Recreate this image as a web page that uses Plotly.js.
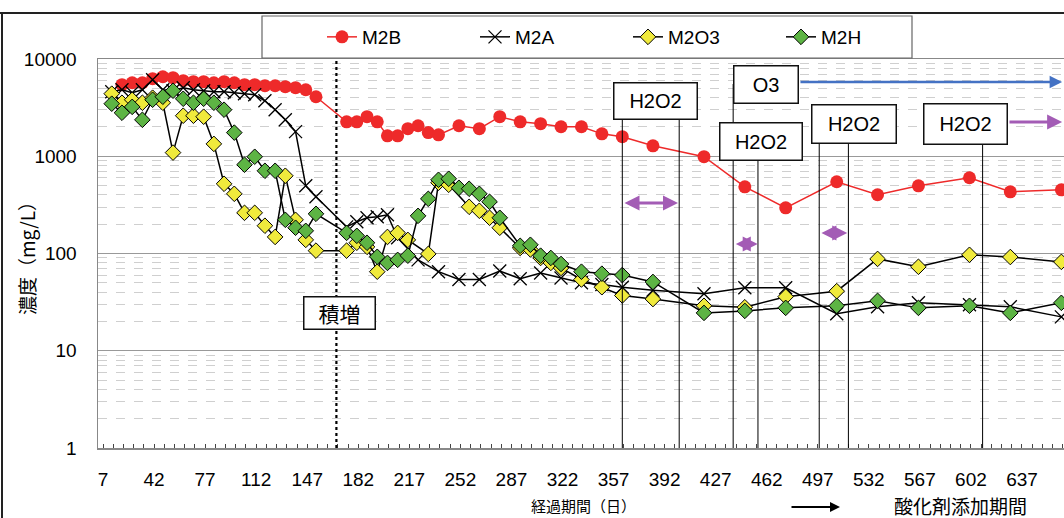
<!DOCTYPE html>
<html>
<head>
<meta charset="utf-8">
<script src="https://cdn.plot.ly/plotly-3.0.1.min.js"></script>
<style>html,body{margin:0;padding:0;background:#fff;}#chart{width:1064px;height:518px;}</style>
</head>
<body>
<div id="chart"></div>
<script>
// ---- Data ----
const daysM2B = [20,27,34,41,48,55,62,69,76,83,90,97,104,111,118,125,132,139,146,153,
  174,181,188,195,202,209,216,223,230,237,251,265,279,293,307,321,335,349,363,384,
  419,447,475,510,538,566,601,629,664];
const valM2B = [5440,5700,5700,6270,6570,6420,5980,5840,5840,5700,5840,5700,5440,5440,5310,5310,5190,5070,4830,4090,
  2260,2260,2550,2260,1620,1620,1920,2060,1750,1660,2060,1920,2550,2260,2160,2010,2010,1700,1590,1280,
  990,485,295,547,402,497,601,431,452];

const daysM2A = [13,20,27,34,41,48,55,62,69,76,83,90,97,104,111,118,125,132,139,146,153,
  174,181,188,195,202,209,223,237,251,265,279,293,307,321,335,349,363,384,
  419,447,475,510,538,566,601,629,664];
const valM2A = [4610,4830,4500,4830,6120,4830,4720,5070,4830,4720,4610,4610,4500,4400,4290,3720,3010,2370,1790,497,383,
  188,212,233,239,250,145,86,65,54,54,66,55,63,56,50,48,45,42,
  38.5,44.4,44.4,24,28.3,31.1,29.7,28.3,22.3];

const daysM2O3 = [13,20,27,34,41,48,55,62,69,76,83,90,97,104,111,118,125,132,139,146,153,
  174,181,188,195,202,209,216,230,237,244,258,265,272,279,293,300,307,314,321,335,349,363,384,
  419,447,475,510,538,566,601,629,664];
const valM2O3 = [4400,3550,3810,3550,4000,3550,1090,2610,2610,2550,1340,521,411,262,262,193,148,630,222,138,107,
  107,129,117,65,148,163,138,99,534,509,302,275,233,184,114,110,90,80,71,54,45,37,34,
  29,28,36,41,88,73,97,92,82];

const daysM2H = [13,20,27,34,41,48,55,62,69,76,83,90,97,104,111,118,125,132,139,146,153,
  174,181,188,195,202,209,216,223,230,237,244,251,258,265,272,279,293,300,307,314,321,335,349,363,384,
  419,447,475,510,538,566,601,629,664];
const valM2H = [3470,2800,3220,2370,3810,4090,4720,3900,3550,3900,3550,3010,1750,818,988,709,709,222,184,171,256,
  163,152,129,92.5,80,86,95,244,365,573,587,474,463,411,340,233,120,123,95,90,78,65,62,60,51,
  24.5,25.7,27.6,29,32.6,27.6,29,24.5,31.1];

const seriesNames = ['M2B','M2A','M2O3','M2H'];
const xTickVals = [7,42,77,112,147,182,217,252,287,322,357,392,427,462,497,532,567,602,637];
const yTickVals = [1,10,100,1000,10000];
const yTickText = ['1','10','100','1000','10000'];

// event markers (days)
const dayIncrease = 167;                 // 積増
const h2o2Lines = [363, 402, 456, 498, 518, 610];
const o3Line = 439;

// ---- Traces ----
const traces = [
  {x: daysM2B, y: valM2B, name: seriesNames[0], mode: 'lines+markers',
   line: {color: '#EE2A2A', width: 1.5},
   marker: {symbol: 'circle', size: 13, color: '#EE2A2A'}},
  {x: daysM2A, y: valM2A, name: seriesNames[1], mode: 'lines+markers',
   line: {color: '#000', width: 1.5},
   marker: {symbol: 'x-thin', size: 13, color: '#000', line: {color: '#000', width: 1.3}}},
  {x: daysM2O3, y: valM2O3, name: seriesNames[2], mode: 'lines+markers',
   line: {color: '#000', width: 1.5},
   marker: {symbol: 'diamond', size: 12, color: '#F0EA3C', line: {color: '#000', width: 1}}},
  {x: daysM2H, y: valM2H, name: seriesNames[3], mode: 'lines+markers',
   line: {color: '#000', width: 1.5},
   marker: {symbol: 'diamond', size: 12, color: '#5DB444', line: {color: '#000', width: 1}}}
];

// ---- Layout helpers ----
const PX0 = 98, PW = 966, PY0 = 448, PH = 389;
const px = v => (v - PX0) / PW;
const py = v => (PY0 - v) / PH;

const shapes = [
  // outer frame
  {type: 'line', xref: 'paper', yref: 'paper', x0: px(2), x1: px(2), y0: py(13), y1: py(520), line: {color: '#222', width: 2}},
  {type: 'line', xref: 'paper', yref: 'paper', x0: px(0), x1: px(1066), y0: py(13), y1: py(13), line: {color: '#222', width: 2}},
  // legend box
  {type: 'rect', xref: 'paper', yref: 'paper', x0: px(262), x1: px(912), y0: py(58), y1: py(16), line: {color: '#666', width: 1.2}, fillcolor: 'rgba(0,0,0,0)'},
  // 積増 dotted line
  {type: 'line', xref: 'x', yref: 'paper', x0: dayIncrease, x1: dayIncrease, y0: 0, y1: 1, line: {color: '#000', width: 2.2, dash: 'dot'}},
  // O3 line
  {type: 'line', xref: 'x', yref: 'paper', x0: o3Line, x1: o3Line, y0: 0, y1: py(84), line: {color: '#000', width: 1}}
];
const h2o2Tops = [py(100), py(100), py(141), py(124), py(124), py(124)];
h2o2Lines.forEach((d, i) => shapes.push({type: 'line', xref: 'x', yref: 'paper', x0: d, x1: d, y0: 0, y1: h2o2Tops[i], line: {color: '#000', width: 1}}));

function box(text, xDay, yPix, w, h, size, fam) {
  return {xref: 'x', yref: 'paper', x: xDay, y: py(yPix), xanchor: 'center', yanchor: 'middle',
    text: text, showarrow: false,
    width: w, height: h, bgcolor: '#fff', bordercolor: '#111', borderwidth: 1.5, borderpad: 0,
    font: {size: size, color: '#000', family: fam || 'Liberation Sans, Arial, sans-serif'}};
}
function dblArrow(d0, d1, yPix, sides, color) {
  return {xref: 'x', yref: 'paper', x: d1, y: py(yPix), axref: 'x', ax: d0, ayref: 'pixel', ay: 0,
    text: '', showarrow: true, arrowside: sides, arrowhead: 2, arrowsize: 1, arrowwidth: 3, arrowcolor: color};
}
function label(text, xPix, yPix, size, extra) {
  return Object.assign({xref: 'paper', yref: 'paper', x: px(xPix), y: py(yPix), xanchor: 'center', yanchor: 'middle',
    text: text, showarrow: false, font: {size: size, color: '#000', family: 'Noto Sans CJK JP, sans-serif'}}, extra || {});
}
const purple = '#A35CB5';
const annotations = [
  box('積増', 169, 313, 70, 31, 21, 'Noto Sans CJK JP, sans-serif'),
  box('H2O2', 385.8, 101, 82, 35, 20),
  box('O3', 461.5, 84.5, 63, 36, 20),
  box('H2O2', 458.1, 141.5, 81, 36, 20),
  box('H2O2', 521.8, 124, 83, 37, 20),
  box('H2O2', 598.3, 124, 82, 39, 20),
  dblArrow(363.5, 401.2, 203, 'end+start', purple),
  dblArrow(439.8, 455.8, 244, 'end+start', purple),
  dblArrow(498.5, 517.2, 233, 'end+start', purple),
  dblArrow(627.4, 664.5, 122, 'end', purple),
  {xref: 'x', yref: 'paper', x: 664.5, y: py(82), axref: 'x', ax: 484.1, ayref: 'pixel', ay: 0,
   text: '', showarrow: true, arrowhead: 2, arrowsize: 1, arrowwidth: 2.5, arrowcolor: '#4472C4'},
  label('濃度（mg/L）', 27, 254, 19, {textangle: -90}),
  label('経過期間（日）', 583, 506, 15),
  {xref: 'paper', yref: 'paper', x: px(840), y: py(507), ax: -50, ay: 0, text: '', showarrow: true,
   arrowhead: 2, arrowsize: 1, arrowwidth: 2, arrowcolor: '#000'},
  label('酸化剤添加期間', 960, 505, 19)
];

const layout = {
  width: 1064, height: 518,
  margin: {l: PX0, r: 0, t: 59, b: 70},
  paper_bgcolor: '#fff', plot_bgcolor: '#fff',
  showlegend: true,
  legend: {orientation: 'h', x: px(322), xanchor: 'left', y: py(37), yanchor: 'middle',
    bgcolor: 'rgba(0,0,0,0)', borderwidth: 0, entrywidth: 108, entrywidthmode: 'pixels',
    font: {size: 19, color: '#000', family: 'Liberation Sans, Arial, sans-serif'}},
  xaxis: {range: [3.57, 665.8], tickmode: 'array', tickvals: xTickVals, ticktext: xTickVals.map(String),
    ticks: 'inside', ticklen: 4, tickcolor: '#444', showgrid: false, zeroline: false,
    showline: true, linecolor: '#888', linewidth: 1.5, mirror: true,
    minor: {tick0: 7, dtick: 7, ticks: 'inside', ticklen: 4, tickcolor: '#444', showgrid: false},
    ticklabelstandoff: 14,
    tickfont: {size: 19, color: '#000', family: 'Liberation Sans Narrow, Arial Narrow, Liberation Sans, sans-serif'}},
  yaxis: {type: 'log', range: [0, 4], tickmode: 'array', tickvals: yTickVals, ticktext: yTickText,
    ticks: '', showgrid: true, gridcolor: '#999', gridwidth: 1, zeroline: false,
    showline: true, linecolor: '#888', linewidth: 1.5,
    minor: {dtick: 'D1', showgrid: true, gridcolor: '#cfcfcf', griddash: 'dash', gridwidth: 1, ticks: ''},
    ticklabelstandoff: 16,
    tickfont: {size: 19, color: '#000', family: 'Liberation Sans, Arial, sans-serif'}},
  shapes: shapes,
  annotations: annotations
};

Plotly.newPlot('chart', traces, layout, {staticPlot: true, displayModeBar: false});
</script>
</body>
</html>
